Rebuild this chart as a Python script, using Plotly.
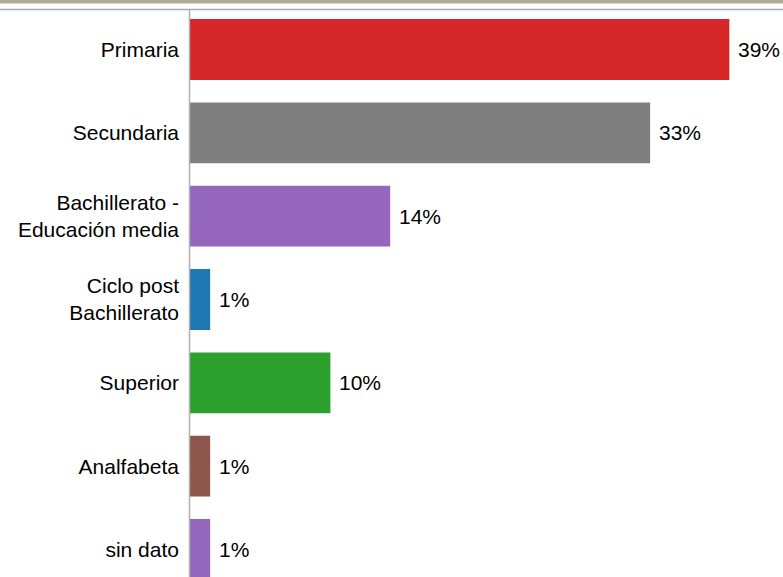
import plotly.graph_objects as go

categories = ["Primaria", "Secundaria", "Bachillerato -<br>Educación media",
              "Ciclo post<br>Bachillerato", "Superior", "Analfabeta", "sin dato"]
values = [38.8, 33.1, 14.4, 1.45, 10.1, 1.45, 1.45]
value_labels = ["39%", "33%", "14%", "1%", "10%", "1%", "1%"]
colors = ["#d62728", "#7f7f7f", "#9467bd", "#1f77b4", "#2ca02c", "#8c564b", "#9467bd"]

W, H = 783, 577
L, T = 190, 9
plot_w = W - L
plot_h = H - T
FONT = "Liberation Sans, Arial, sans-serif"

fig = go.Figure(go.Bar(
    x=values, y=categories, orientation="h",
    marker=dict(color=colors, line=dict(width=0)),
    width=0.73, hoverinfo="x+y",
))

annotations = [
    dict(x=v, y=c, xref="x", yref="y", text=t, showarrow=False,
         xanchor="left", yanchor="middle", xshift=7,
         font=dict(family=FONT, size=21, color="#000"))
    for v, c, t in zip(values, categories, value_labels)
]

fig.update_layout(
    width=W, height=H,
    margin=dict(l=L, r=0, t=T, b=0, pad=0),
    paper_bgcolor="white", plot_bgcolor="white",
    showlegend=False,
    font=dict(family=FONT, size=21, color="#000"),
    xaxis=dict(range=[0, 42.66], visible=False, fixedrange=True),
    yaxis=dict(range=[6.33, -0.486], autorange=False, showgrid=False,
               ticks="", ticklen=0, showline=False, zeroline=False,
               tickfont=dict(family=FONT, size=21, color="#000"),
               ticklabelstandoff=10, fixedrange=True),
    annotations=annotations,
    shapes=[
        dict(type="rect", xref="paper", yref="paper",
             x0=-L / plot_w, x1=1, y0=1 + (T - 3.5) / plot_h, y1=1 + T / plot_h,
             fillcolor="#b0aa98", line=dict(width=0), layer="above"),
        dict(type="line", xref="paper", yref="paper",
             x0=-L / plot_w, x1=1, y0=1 - 0.5 / plot_h, y1=1 - 0.5 / plot_h,
             line=dict(color="#aaaaaa", width=1.5), layer="above"),
        dict(type="line", xref="paper", yref="paper",
             x0=-0.5 / plot_w, x1=-0.5 / plot_w, y0=-0.1, y1=1,
             line=dict(color="#b0b0b0", width=1.5), layer="above"),
    ],
)

fig.write_html("out.html", config={"displayModeBar": False})

with open("out.html", "r", encoding="utf-8") as f:
    html = f.read()
html = html.replace("<body>", '<body style="margin:0;padding:0;overflow:hidden">', 1)
with open("out.html", "w", encoding="utf-8") as f:
    f.write(html)
